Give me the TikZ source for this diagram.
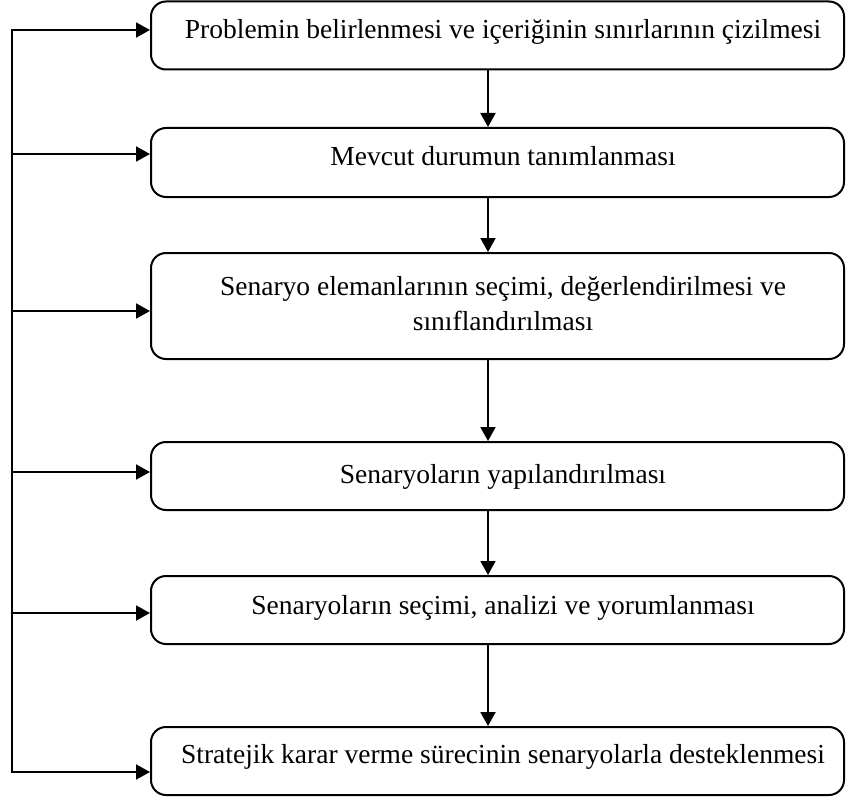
\documentclass[tikz,border=0pt]{standalone}
\usepackage{fontspec}
\setmainfont{Liberation Serif}
\usetikzlibrary{arrows.meta}
\begin{document}
\begin{tikzpicture}[x=0.5pt,y=-0.5pt,
  stage/.style={draw, line width=1pt, rounded corners=7.5pt, inner sep=0pt,
    minimum width=346.5pt},
  stagetext/.style={font=\fontsize{13.75pt}{17.5pt}\selectfont, inner sep=0pt, align=center},
  flow/.style={-{Triangle[length=7pt,width=7.5pt]}, line width=1pt},
  feed/.style={line width=1pt}]
\useasboundingbox (0,0) rectangle (846,797);

% process steps
\node[stage, minimum height=34pt]   (b1) at (497.5,35.5) {};
\node[stage, minimum height=34.5pt] (b2) at (497.5,162.5) {};
\node[stage, minimum height=53pt]   (b3) at (497.5,306) {};
\node[stage, minimum height=34pt]   (b4) at (497.5,476) {};
\node[stage, minimum height=34pt]   (b5) at (497.5,610) {};
\node[stage, minimum height=34pt]   (b6) at (497.5,761) {};

\node[stagetext, anchor=mid] (t1) at (503,34) {Problemin belirlenmesi ve içeriğinin sınırlarının çizilmesi};
\node[stagetext, anchor=mid] (t2) at (503,161) {Mevcut durumun tanımlanması};
\node[stagetext] (t3) at (503,304) {Senaryo elemanlarının seçimi, değerlendirilmesi ve\\sınıflandırılması};
\node[stagetext, anchor=mid] (t4) at (503,479) {Senaryoların yapılandırılması};
\node[stagetext, anchor=mid] (t5) at (503,610) {Senaryoların seçimi, analizi ve yorumlanması};
\node[stagetext, anchor=mid] (t6) at (503,759) {Stratejik karar verme sürecinin senaryolarla desteklenmesi};

% downward flow between steps
\coordinate (ax) at (488,0);
\draw[flow] (b1.south -| ax) -- (b2.north -| ax);
\draw[flow] (b2.south -| ax) -- (b3.north -| ax);
\draw[flow] (b3.south -| ax) -- (b4.north -| ax);
\draw[flow] (b4.south -| ax) -- (b5.north -| ax);
\draw[flow] (b5.south -| ax) -- (b6.north -| ax);

% feedback spine on the left
\coordinate (s1) at (12,30);
\coordinate (s2) at (12,154);
\coordinate (s3) at (12,311);
\coordinate (s4) at (12,472);
\coordinate (s5) at (12,613);
\coordinate (s6) at (12,772);
\draw[feed, {Triangle[length=7pt,width=7.5pt]}-{Triangle[length=7pt,width=7.5pt]}]
  (s1 -| b1.west) -- (s1) -- (s6) -- (s6 -| b6.west);
\draw[flow] (s2) -- (s2 -| b2.west);
\draw[flow] (s3) -- (s3 -| b3.west);
\draw[flow] (s4) -- (s4 -| b4.west);
\draw[flow] (s5) -- (s5 -| b5.west);
\end{tikzpicture}
\end{document}
